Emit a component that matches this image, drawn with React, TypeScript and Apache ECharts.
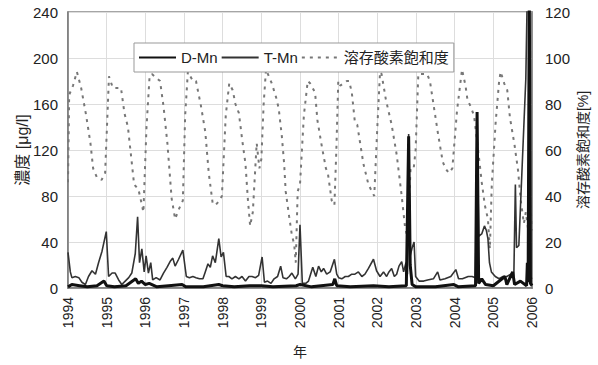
import React, { useEffect, useRef } from "react";
import * as echarts from "echarts";

const YEAR_TICKS = [1994, 1995, 1996, 1997, 1998, 1999, 2000, 2001, 2002, 2003, 2004, 2005, 2006];
const LEGEND_NAMES = ["D-Mn", "T-Mn", "溶存酸素飽和度"];

// T-Mn [year, μg/l]
const T_MN: [number, number][] = [
  [1994.0, 31], [1994.06, 14], [1994.1, 9], [1994.19, 10], [1994.28, 9], [1994.36, 5], [1994.45, 3],
  [1994.53, 10], [1994.62, 15], [1994.71, 12], [1994.79, 22], [1994.88, 32], [1994.99, 49],
  [1995.05, 10], [1995.14, 13], [1995.22, 13], [1995.31, 7], [1995.39, 3], [1995.48, 6], [1995.57, 9],
  [1995.65, 13], [1995.74, 30], [1995.8, 62], [1995.85, 22], [1995.91, 34], [1995.97, 14],
  [1996.02, 28], [1996.08, 13], [1996.14, 22], [1996.19, 7], [1996.28, 9], [1996.38, 7], [1996.47, 13],
  [1996.56, 18], [1996.64, 23], [1996.71, 26], [1996.77, 19], [1996.86, 25], [1996.97, 33],
  [1997.06, 10], [1997.14, 9], [1997.23, 10], [1997.31, 9], [1997.4, 8], [1997.49, 8], [1997.55, 14],
  [1997.62, 21], [1997.68, 18], [1997.74, 28], [1997.81, 22], [1997.9, 43], [1997.96, 27],
  [1998.02, 31], [1998.09, 10], [1998.16, 10], [1998.24, 8], [1998.33, 10], [1998.42, 8], [1998.5, 10],
  [1998.59, 6], [1998.68, 10], [1998.76, 10], [1998.85, 9], [1998.93, 11], [1999.02, 27],
  [1999.08, 5], [1999.16, 6], [1999.25, 4], [1999.33, 8], [1999.42, 10], [1999.5, 19], [1999.56, 9],
  [1999.65, 8], [1999.72, 10], [1999.79, 13], [1999.88, 8], [1999.95, 12], [2000.0, 55],
  [2000.06, 4], [2000.15, 4], [2000.22, 6], [2000.33, 18], [2000.41, 10], [2000.48, 19], [2000.55, 14],
  [2000.61, 17], [2000.69, 12], [2000.78, 14], [2000.89, 25], [2000.95, 12], [2001.0, 9],
  [2001.08, 8], [2001.17, 10], [2001.25, 10], [2001.34, 12], [2001.42, 12], [2001.51, 14], [2001.6, 10],
  [2001.68, 12], [2001.77, 17], [2001.9, 25], [2001.98, 15], [2002.07, 10], [2002.16, 14],
  [2002.24, 10], [2002.3, 14], [2002.37, 17], [2002.44, 10], [2002.5, 12], [2002.56, 19], [2002.63, 23],
  [2002.68, 14], [2002.74, 22], [2002.78, 12], [2002.81, 134], [2002.85, 28], [2002.9, 35],
  [2002.95, 40], [2002.99, 10], [2003.08, 6], [2003.2, 6], [2003.3, 7], [2003.45, 8], [2003.56, 14],
  [2003.62, 7], [2003.75, 8], [2003.9, 10], [2004.03, 16], [2004.1, 8], [2004.2, 8], [2004.35, 10],
  [2004.45, 10], [2004.54, 9], [2004.58, 153], [2004.62, 45], [2004.7, 47], [2004.77, 54],
  [2004.82, 50], [2004.86, 43], [2004.9, 22], [2004.95, 14], [2005.05, 10], [2005.15, 8],
  [2005.25, 10], [2005.35, 10], [2005.45, 12], [2005.53, 10], [2005.57, 90], [2005.6, 35],
  [2005.66, 37], [2005.84, 182], [2005.91, 320], [2005.95, 10], [2006.0, 8],
];

// D-Mn [year, μg/l]
const D_MN: [number, number][] = [
  [1994.0, 1], [1994.1, 3], [1994.3, 2], [1994.5, 1], [1994.75, 2], [1994.93, 6], [1995.0, 2],
  [1995.2, 1], [1995.5, 2], [1995.75, 8], [1995.82, 4], [1995.9, 6], [1996.0, 3], [1996.1, 4],
  [1996.3, 1], [1996.6, 2], [1996.95, 3], [1997.05, 1], [1997.5, 1], [1997.9, 3], [1998.0, 2],
  [1998.3, 1], [1998.7, 2], [1999.0, 2], [1999.3, 1], [1999.9, 2], [2000.0, 3], [2000.3, 1],
  [2000.85, 3], [2000.9, 8], [2000.95, 2], [2001.3, 1], [2001.9, 2], [2002.3, 1], [2002.75, 2],
  [2002.81, 132], [2002.85, 20], [2002.9, 3], [2003.0, 1], [2003.5, 1], [2003.98, 3], [2004.1, 1],
  [2004.54, 2], [2004.58, 153], [2004.62, 4], [2004.7, 8], [2004.8, 3], [2005.0, 2], [2005.3, 10],
  [2005.35, 3], [2005.5, 14], [2005.55, 3], [2005.7, 6], [2005.86, 2], [2005.88, 22], [2005.9, 5],
  [2005.93, 260], [2005.96, 4], [2006.0, 2],
];

// 溶存酸素飽和度 [year, %]
const DO_SAT: [number, number][] = [
  [1994.0, 46], [1994.03, 84], [1994.13, 88], [1994.23, 94], [1994.34, 87], [1994.47, 75], [1994.58, 63],
  [1994.65, 52], [1994.75, 48], [1994.87, 47], [1994.96, 50], [1995.06, 92], [1995.16, 87],
  [1995.37, 87], [1995.46, 76], [1995.55, 70], [1995.71, 45], [1995.82, 43], [1995.9, 37],
  [1995.95, 33], [1996.03, 70], [1996.11, 92], [1996.17, 93], [1996.38, 90], [1996.47, 79],
  [1996.57, 63], [1996.68, 39], [1996.77, 30], [1996.86, 34], [1996.97, 38], [1997.03, 75],
  [1997.1, 94], [1997.23, 90], [1997.31, 90], [1997.44, 79], [1997.55, 68], [1997.64, 50],
  [1997.74, 37], [1997.81, 36], [1997.92, 38], [1997.98, 40], [1998.08, 75], [1998.17, 89],
  [1998.26, 86], [1998.33, 80], [1998.42, 76], [1998.5, 65], [1998.59, 54], [1998.65, 39],
  [1998.71, 27], [1998.78, 33], [1998.88, 63], [1998.95, 52], [1999.0, 56], [1999.06, 80],
  [1999.12, 95], [1999.27, 89], [1999.38, 83], [1999.45, 78], [1999.53, 66], [1999.59, 54],
  [1999.63, 42], [1999.72, 31], [1999.79, 23], [1999.85, 19], [1999.89, 11], [1999.94, 42],
  [2000.0, 45], [2000.1, 75], [2000.2, 90], [2000.26, 89], [2000.39, 85], [2000.45, 73],
  [2000.56, 62], [2000.67, 52], [2000.72, 50], [2000.82, 38], [2000.89, 36], [2000.94, 60],
  [2000.99, 90], [2001.04, 88], [2001.21, 90], [2001.27, 90], [2001.34, 85], [2001.42, 72],
  [2001.48, 71], [2001.64, 54], [2001.77, 45], [2001.92, 40], [2002.0, 70], [2002.07, 94],
  [2002.11, 93], [2002.22, 82], [2002.37, 71], [2002.5, 58], [2002.63, 40], [2002.72, 26],
  [2002.78, 22], [2002.86, 52], [2002.94, 52], [2002.99, 60], [2003.06, 93], [2003.29, 93],
  [2003.36, 90], [2003.46, 79], [2003.57, 67], [2003.69, 55], [2003.76, 52], [2003.85, 50],
  [2003.94, 52], [2004.06, 77], [2004.19, 95], [2004.28, 88], [2004.33, 82], [2004.41, 79],
  [2004.5, 75], [2004.55, 68], [2004.62, 58], [2004.7, 46], [2004.78, 36], [2004.86, 30],
  [2004.91, 17], [2004.96, 45], [2005.06, 72], [2005.15, 90], [2005.19, 94], [2005.28, 89],
  [2005.36, 86], [2005.43, 74], [2005.55, 62], [2005.64, 51], [2005.71, 38], [2005.79, 28],
  [2005.84, 33], [2005.88, 28], [2005.92, 23], [2005.96, 36], [2006.0, 25],
];

const FONT = 'Arial, "Liberation Sans", "Noto Sans CJK JP", sans-serif';
const TEXT = "#222";

export default function App() {
  const ref = useRef<HTMLDivElement>(null);
  useEffect(() => {
    const chart = echarts.init(ref.current!, null, { renderer: "svg" });
    chart.setOption({
      animation: false,
      backgroundColor: "#fff",
      textStyle: { fontFamily: FONT, color: TEXT },
      grid: { left: 68, right: 65, top: 12, bottom: 77, show: true, borderColor: "#888", borderWidth: 1.5 },
      legend: {
        data: LEGEND_NAMES,
        left: 134,
        top: 43,
        itemWidth: 37,
        itemHeight: 12,
        itemGap: 3,
        padding: [7, 5, 7, 4],
        borderColor: "#999",
        borderWidth: 1,
        backgroundColor: "#fff",
        itemStyle: { opacity: 0 },
        textStyle: { fontSize: 15, color: TEXT, fontFamily: FONT },
      },
      xAxis: {
        type: "value",
        min: YEAR_TICKS[0],
        max: YEAR_TICKS[YEAR_TICKS.length - 1],
        interval: 1,
        name: "年",
        nameLocation: "middle",
        nameGap: 57,
        nameMoveOverlap: false,
        nameTextStyle: { fontSize: 14, color: TEXT, verticalAlign: "top" },
        axisLine: { show: true, lineStyle: { color: "#777", width: 1.5 } },
        axisTick: { show: false },
        axisLabel: { rotate: 90, fontSize: 14, color: TEXT, margin: 9, formatter: (v: number) => String(v) },
        splitLine: { show: true, lineStyle: { color: "#ddd", width: 1 } },
      },
      yAxis: [
        {
          type: "value",
          min: 0,
          max: 240,
          interval: 40,
          position: "left",
          name: "濃度 [μg/l]",
          nameLocation: "middle",
          nameGap: 38,
          nameRotate: 90,
          nameMoveOverlap: false,
          nameTextStyle: { fontSize: 16, color: TEXT },
          axisLine: { show: true, lineStyle: { color: "#777", width: 1.5 } },
          axisTick: { show: false },
          axisLabel: { fontSize: 15, color: TEXT, margin: 10 },
          splitLine: { show: true, lineStyle: { color: "#ddd", width: 1 } },
        },
        {
          type: "value",
          min: 0,
          max: 120,
          interval: 20,
          position: "right",
          name: "溶存酸素飽和度[%]",
          nameLocation: "middle",
          nameGap: 44,
          nameRotate: 90,
          nameMoveOverlap: false,
          nameTextStyle: { fontSize: 14, color: TEXT },
          axisLine: { show: true, lineStyle: { color: "#777", width: 1.5 } },
          axisTick: { show: false },
          axisLabel: { fontSize: 15, color: TEXT, margin: 13 },
          splitLine: { show: false },
        },
      ],
      series: [
        {
          name: "溶存酸素飽和度",
          type: "line",
          yAxisIndex: 1,
          data: DO_SAT,
          symbol: "none",
          z: 1,
          lineStyle: { color: "#777", width: 2, type: [3, 5] },
          itemStyle: { color: "#777" },
        },
        {
          name: "T-Mn",
          type: "line",
          yAxisIndex: 0,
          data: T_MN,
          symbol: "none",
          z: 2,
          lineStyle: { color: "#333", width: 1.6 },
          itemStyle: { color: "#333" },
        },
        {
          name: "D-Mn",
          type: "line",
          yAxisIndex: 0,
          data: D_MN,
          symbol: "none",
          z: 3,
          lineStyle: { color: "#111", width: 3 },
          itemStyle: { color: "#111" },
        },
      ],
    });
    return () => chart.dispose();
  }, []);
  return <div ref={ref} style={{ position: "absolute", left: 0, top: 0, width: 598, height: 365 }} />;
}
